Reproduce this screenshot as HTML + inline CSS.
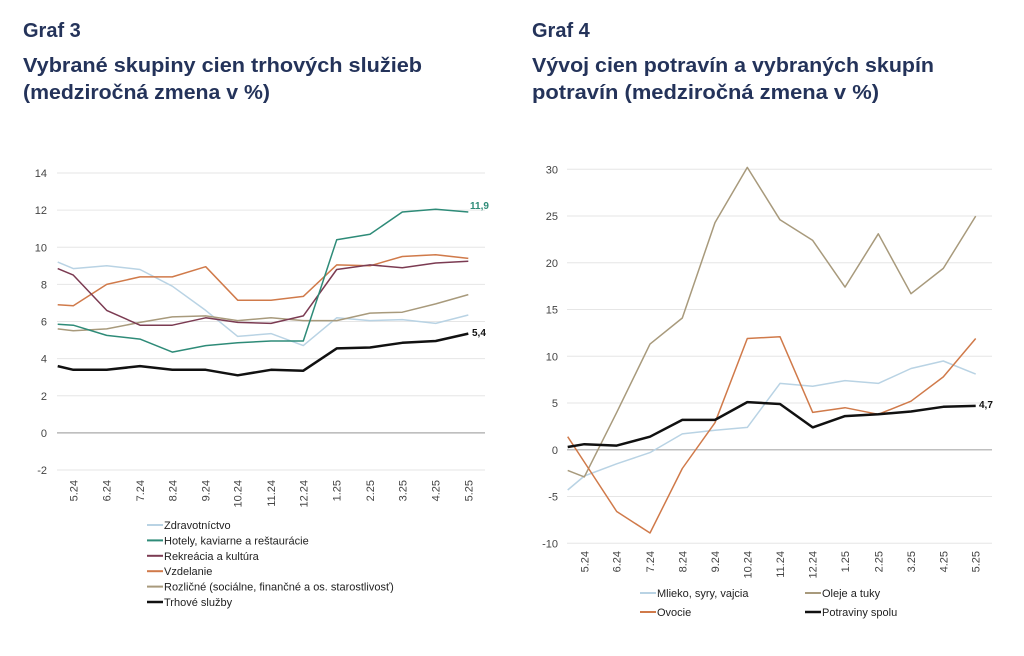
<!DOCTYPE html>
<html><head><meta charset="utf-8"><style>
html,body{margin:0;padding:0;background:#fff;width:1024px;height:656px;overflow:hidden}
svg{display:block}
.t{font-family:"Liberation Sans",sans-serif;font-weight:bold;fill:#24335a;font-size:20px}
.ax{font-family:"Liberation Sans",sans-serif;font-size:11px;fill:#444}
.lg{font-family:"Liberation Sans",sans-serif;font-size:11px;fill:#222}
</style></head><body>
<svg id="s" width="1024" height="656" viewBox="0 0 1024 656" xmlns="http://www.w3.org/2000/svg">
<text class="t" x="23" y="37">Graf 3</text>
<text class="t" x="23" y="72" textLength="399" lengthAdjust="spacingAndGlyphs">Vybrané skupiny cien trhových služieb</text>
<text class="t" x="23" y="99" textLength="247" lengthAdjust="spacingAndGlyphs">(medziročná zmena v %)</text>
<text class="t" x="532" y="37">Graf 4</text>
<text class="t" x="532" y="72" textLength="402" lengthAdjust="spacingAndGlyphs">Vývoj cien potravín a vybraných skupín</text>
<text class="t" x="532" y="99" textLength="347" lengthAdjust="spacingAndGlyphs">potravín (medziročná zmena v %)</text>
<g id="g"></g>
</svg>
<script>
var g=document.getElementById('g'),NS='http://www.w3.org/2000/svg';
function el(n,a,t){var e=document.createElementNS(NS,n);for(var k in a)e.setAttribute(k,a[k]);if(t!==undefined)e.textContent=t;g.appendChild(e);return e;}
var labs=['5.24','6.24','7.24','8.24','9.24','10.24','11.24','12.24','1.25','2.25','3.25','4.25','5.25'];
function chart(o){
  function Y(v){return o.y0+(v-o.vmin)*(o.y1-o.y0)/(o.vmax-o.vmin);}
  for(var v=o.vmin;v<=o.vmax;v+=o.step){
    var y=Y(v);
    el('line',{x1:o.gx0,x2:o.gx1,y1:y,y2:y,stroke:v==0?'#aaa':'#e6e6e6','stroke-width':v==0?1.2:1});
    el('text',{x:o.lx,y:y+4,'class':'ax','text-anchor':'end'},String(v));
  }
  o.series.forEach(function(s){
    var p=s.d.map(function(v,i){return o.xs[i].toFixed(1)+','+Y(v).toFixed(1);}).join(' ');
    el('polyline',{points:p,fill:'none',stroke:s.c,'stroke-width':s.w||1.5,'stroke-linejoin':'round'});
  });
  for(var i=1;i<o.xs.length;i++){
    var x=o.xs[i]+4,y=o.labTop;
    el('text',{x:0,y:0,'class':'ax','text-anchor':'end',transform:'translate('+x+','+y+') rotate(-90)'},labs[i-1]);
  }
  (o.notes||[]).forEach(function(n){el('text',{x:n.x,y:n.y,'font-family':'Liberation Sans,sans-serif','font-size':'10px','font-weight':'bold',fill:n.c},n.t);});
}
var xl=[57.7,73.3,106.7,140,172.3,205.7,237.7,271,303.3,336.7,370,402.3,435.7,468.3];
chart({vmin:-2,vmax:14,step:2,y0:470,y1:173,gx0:57,gx1:485,lx:47,xs:xl,labTop:480,
 series:[
 {c:'#b9d3e4',d:[9.2,8.85,9.0,8.8,7.9,6.6,5.2,5.35,4.7,6.2,6.05,6.1,5.9,6.35]},
 {c:'#a89a7c',d:[5.6,5.5,5.6,5.95,6.25,6.3,6.05,6.2,6.05,6.05,6.45,6.5,6.95,7.45]},
 {c:'#d07a4a',d:[6.9,6.85,8.0,8.4,8.4,8.95,7.15,7.15,7.35,9.05,9.0,9.5,9.6,9.4]},
 {c:'#7b3b52',d:[8.85,8.5,6.6,5.8,5.8,6.2,5.95,5.9,6.3,8.8,9.05,8.9,9.15,9.25]},
 {c:'#2e8b78',d:[5.85,5.8,5.25,5.05,4.35,4.7,4.85,4.95,4.95,10.4,10.7,11.9,12.05,11.9]},
 {c:'#111',w:2.5,d:[3.6,3.4,3.4,3.6,3.4,3.4,3.1,3.4,3.35,4.55,4.6,4.85,4.95,5.35]}],
 notes:[{x:470,y:209,t:'11,9',c:'#2e8b78'},{x:472,y:336,t:'5,4',c:'#111'}]});
var xr=[567.7,584.3,616.7,650,682.3,715,747.3,780,812.7,845,878.3,911,943.3,975.7];
chart({vmin:-10,vmax:30,step:5,y0:543.3,y1:169.3,gx0:567,gx1:992,lx:558,xs:xr,labTop:551,
 series:[
 {c:'#b9d3e4',d:[-4.3,-2.8,-1.5,-0.3,1.7,2.1,2.4,7.1,6.8,7.4,7.1,8.7,9.5,8.1]},
 {c:'#a89a7c',d:[-2.2,-2.9,4,11.3,14.1,24.3,30.2,24.6,22.4,17.4,23.1,16.7,19.4,25]},
 {c:'#d07a4a',d:[1.4,-1.3,-6.6,-8.9,-2,2.9,11.9,12.1,4,4.5,3.8,5.2,7.8,11.9]},
 {c:'#111',w:2.5,d:[0.3,0.6,0.45,1.4,3.2,3.2,5.1,4.9,2.4,3.6,3.8,4.1,4.6,4.7]}],
 notes:[{x:979,y:408,t:'4,7',c:'#111'}]});
function leg(x,y,c,t,w){el('line',{x1:x,x2:x+16,y1:y,y2:y,stroke:c,'stroke-width':w||2});el('text',{x:x+17,y:y+4,'class':'lg'},t);}
var L=[['#b9d3e4','Zdravotníctvo'],['#2e8b78','Hotely, kaviarne a reštaurácie'],['#7b3b52','Rekreácia a kultúra'],['#d07a4a','Vzdelanie'],['#a89a7c','Rozličné (sociálne, finančné a os. starostlivosť)'],['#111','Trhové služby']];
L.forEach(function(l,i){leg(147,525+i*15.4,l[0],l[1],i==5?2.5:2);});
leg(640,593,'#b9d3e4','Mlieko, syry, vajcia');leg(805,593,'#a89a7c','Oleje a tuky');
leg(640,612,'#d07a4a','Ovocie');leg(805,612,'#111','Potraviny spolu',2.5);
</script>
</body></html>
